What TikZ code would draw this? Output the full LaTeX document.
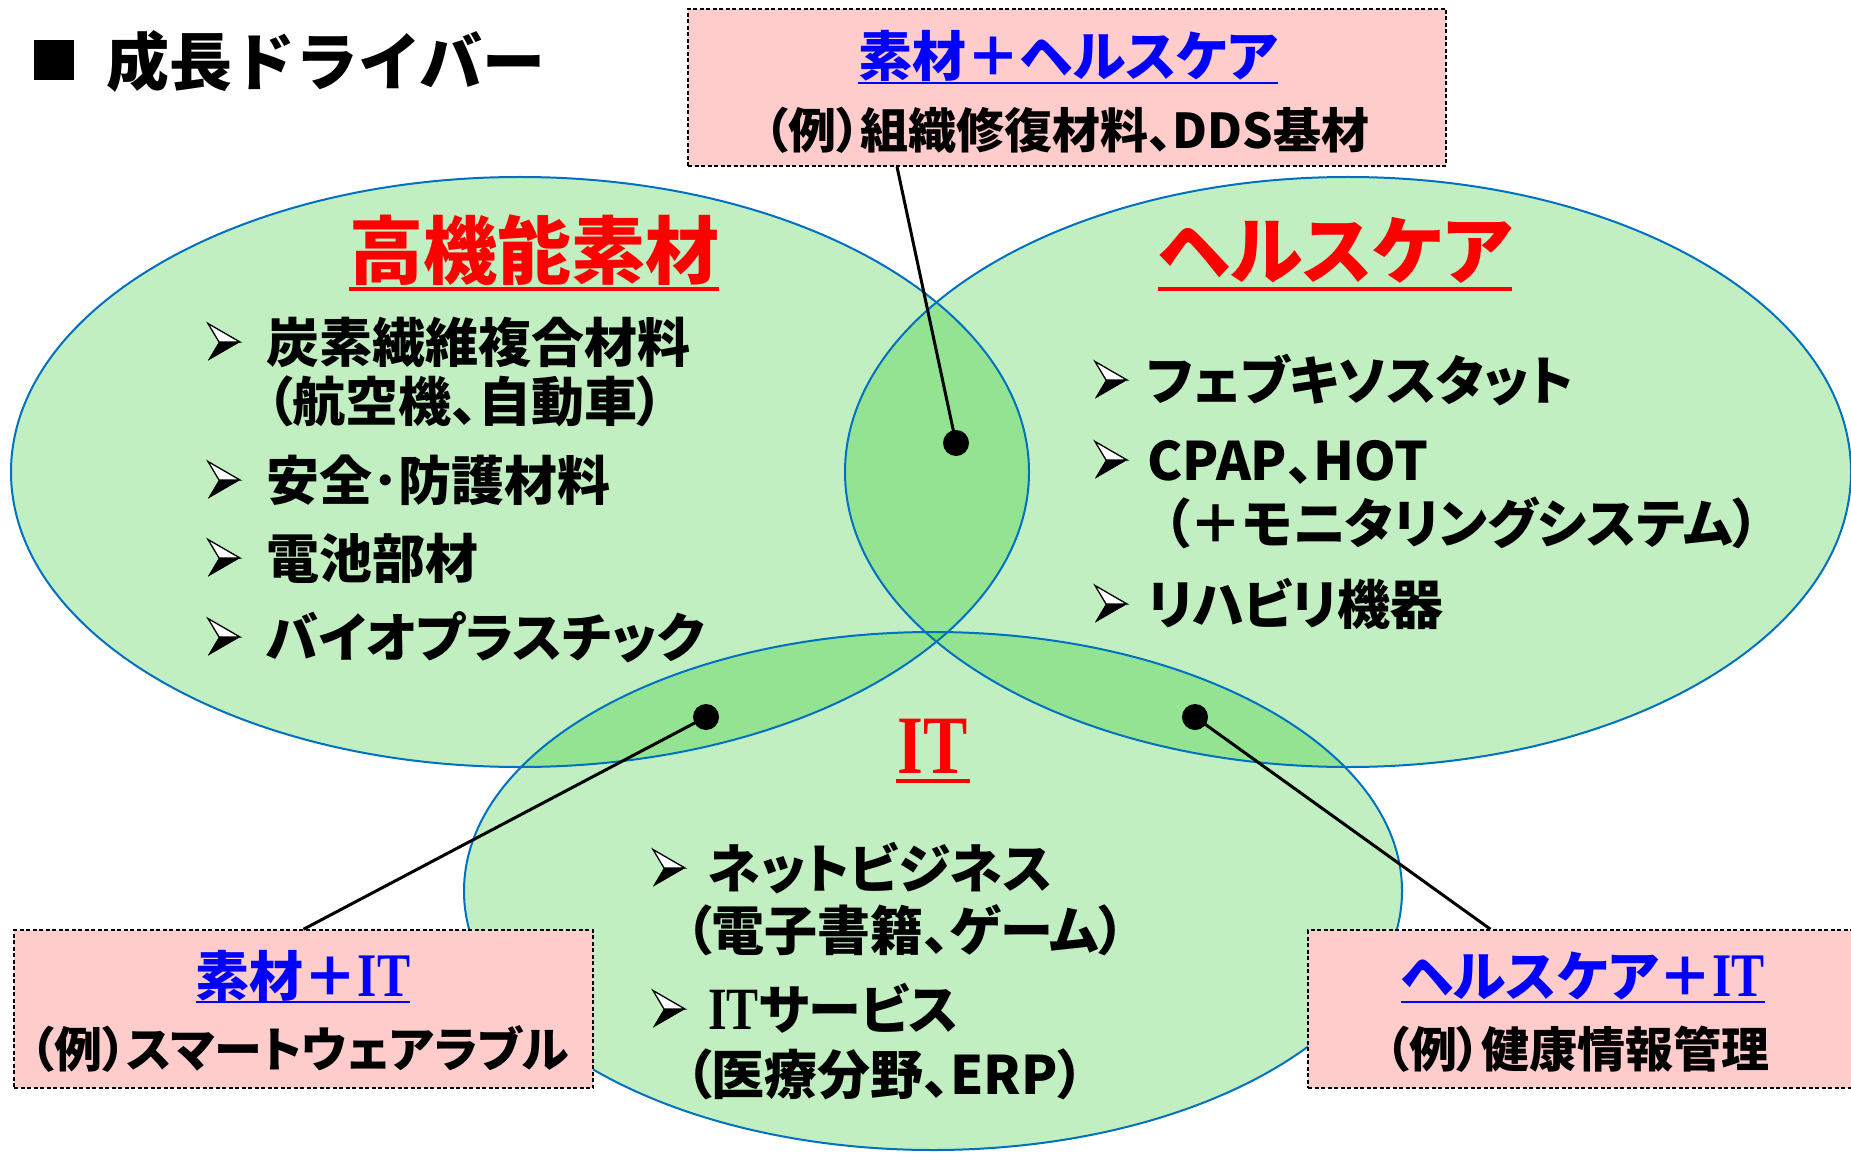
\documentclass[tikz,border=0pt]{standalone}
\usepackage{fontspec}
\newfontfamily\jp{Noto Sans CJK JP}[RawFeature=+palt]
\newfontfamily\jpmono{Noto Sans CJK JP}
\newfontfamily\serifit{Liberation Serif}
\newcommand\itword[1]{{\serifit\bfseries\fontsize{#1}{#1}\selectfont\scalebox{0.8}[1]{IT}}}
\definecolor{vgreen}{RGB}{0,192,0}
\definecolor{vblue}{RGB}{0,112,192}
\definecolor{pinkc}{RGB}{255,204,204}
\tikzset{
  vennfill/.style={fill=vgreen, fill opacity=0.24},
  vennline/.style={draw=vblue, line width=2pt},
  pinkbox/.style={draw=black, fill=pinkc, dash pattern=on 4pt off 2.5pt, line width=1.5pt, inner sep=0pt},
  body/.style={anchor=base west, inner sep=0pt, font=\jp\bfseries\fontsize{53}{60}\selectfont},
  head/.style={anchor=base, inner sep=0pt, text=red, font=\jp\bfseries\fontsize{74}{80}\selectfont},
  btitle/.style={anchor=base, inner sep=0pt, text=blue, font=\jp\bfseries\fontsize{54}{60}\selectfont},
  bex/.style={anchor=base, inner sep=0pt, font=\jp\bfseries\fontsize{48}{54}\selectfont},
  conn/.style={line width=3pt, black},
  dotc/.style={circle, fill=black, inner sep=0pt, minimum size=26pt},
  pics/arrowbul/.style={code={
    \fill[black] (-32,18.5) -- (0,0) -- (-21,0) -- cycle;
    \filldraw[fill=white, draw=black, line width=1.3pt, line join=miter] (-32,-18.5) -- (0,0) -- (-21,0) -- cycle;
    \fill[black] (-32,18.5) -- (0,0) -- (-21,0) -- cycle;
  }},
}
\begin{document}
\begin{tikzpicture}[x=1pt,y=-1pt]
\useasboundingbox (0,0) rectangle (1851,1155);
\fill[white] (0,0) rectangle (1851,1155);
% Venn ellipses
\fill[vennfill] (520,472) ellipse [x radius=509pt, y radius=295pt];
\fill[vennfill] (1348,472) ellipse [x radius=503pt, y radius=295pt];
\fill[vennfill] (933,891) ellipse [x radius=469pt, y radius=259pt];
\draw[vennline] (520,472) ellipse [x radius=509pt, y radius=295pt];
\draw[vennline] (1348,472) ellipse [x radius=503pt, y radius=295pt];
\draw[vennline] (933,891) ellipse [x radius=469pt, y radius=259pt];

% title
\node[anchor=center, inner sep=0pt, font=\jpmono\bfseries\fontsize{50}{50}\selectfont] (sq) at (54,61) {■};
\node[anchor=base west, inner sep=0pt, font=\jpmono\bfseries\fontsize{63}{70}\selectfont] (title) at (106,86) {成長ドライバー};

% headings
\node[head] (h1) at (534,279) {高機能素材};
\draw[red, line width=4pt] ([yshift=-10pt]h1.base west) -- ([yshift=-10pt]h1.base east);
\node[head] (h2) at (1335,279) {ヘルスケア};
\draw[red, line width=4pt] ([yshift=-10pt]h2.base west) -- ([yshift=-10pt]h2.base east);
\node[anchor=base, inner sep=0pt, text=red] (h3) at (933,773) {\itword{83}};
\draw[red, line width=4pt] ([yshift=-8pt,xshift=-2pt]h3.base west) -- ([yshift=-8pt,xshift=2pt]h3.base east);

% left list
\pic at (240,342) {arrowbul};
\node[body] (t1) at (266,362) {炭素繊維複合材料};
\node[body] (t1b) at (266,421) {（航空機、自動車）};
\pic at (240,480) {arrowbul};
\node[body] (t2) at (266,500) {安全･防護材料};
\pic at (240,558) {arrowbul};
\node[body] (t3) at (266,578) {電池部材};
\pic at (240,637) {arrowbul};
\node[body] (t4) at (266,657) {バイオプラスチック};

% right list
\pic at (1127,380) {arrowbul};
\node[body] (u1) at (1147,400) {フェブキソスタット};
\pic at (1127,460) {arrowbul};
\node[body] (u2) at (1147,480) {CPAP、HOT};
\node[body] (u2b) at (1163,543) {（＋モニタリングシステム）};
\pic at (1127,604) {arrowbul};
\node[body] (u3) at (1147,624) {リハビリ機器};

% bottom list
\pic at (685,868) {arrowbul};
\node[body] (v1) at (708,888) {ネットビジネス};
\node[body] (v1b) at (685,950) {（電子書籍、ゲーム）};
\pic at (685,1009) {arrowbul};
\node[body] (v2) at (708,1029) {\itword{60}サービス};
\node[body] (v2b) at (685,1094) {（医療分野、ERP）};

% dots
\node[dotc] (d1) at (956,443) {};
\node[dotc] (d2) at (706,717) {};
\node[dotc] (d3) at (1195,717) {};

% boxes
\node[pinkbox, minimum width=758pt, minimum height=157pt] (tb) at (1067,87.5) {};
\node[pinkbox, minimum width=579pt, minimum height=158pt] (lb) at (303.5,1009) {};
\node[pinkbox, minimum width=545pt, minimum height=158pt] (rb) at (1580.5,1009) {};

% connectors
\draw[conn] ([xshift=-170pt]tb.south) -- (d1.center);
\draw[conn] (lb.north) -- (d2.center);
\draw[conn] ([xshift=-90pt]rb.north) -- (d3.center);

% box texts
\node[btitle] (bt1) at (1068,77) {素材＋ヘルスケア};
\draw[blue, line width=2.5pt] ([yshift=-6pt]bt1.base west) -- ([yshift=-6pt]bt1.base east);
\node[bex] (ex1) at (1067,149) {（例）組織修復材料、DDS基材};

\node[btitle] (bt2) at (303,996) {素材＋\itword{62}};
\draw[blue, line width=2.5pt] ([yshift=-6pt]bt2.base west) -- ([yshift=-6pt]bt2.base east);
\node[bex] (ex2) at (300,1067) {（例）スマートウェアラブル};

\node[btitle] (bt3) at (1583,996) {ヘルスケア＋\itword{62}};
\draw[blue, line width=2.5pt] ([yshift=-6pt]bt3.base west) -- ([yshift=-6pt]bt3.base east);
\node[bex] (ex3) at (1577,1067) {（例）健康情報管理};
\end{tikzpicture}
\end{document}
